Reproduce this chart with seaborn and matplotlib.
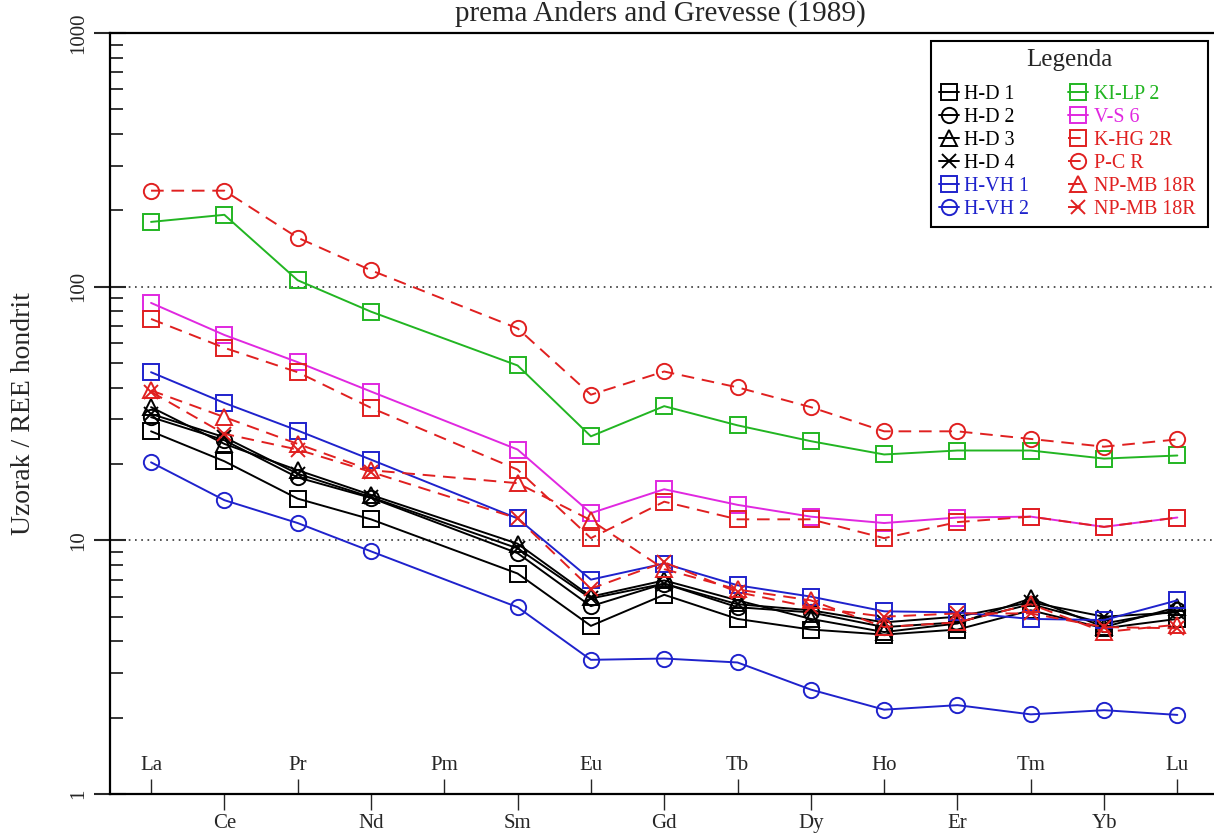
import numpy as np
import pandas as pd
import matplotlib
matplotlib.use("Agg")
import matplotlib.pyplot as plt
import seaborn as sns

# ---------------- data ----------------
elements = ["La", "Ce", "Pr", "Nd", "Pm", "Sm", "Eu", "Gd", "Tb", "Dy", "Ho", "Er", "Tm", "Yb", "Lu"]
measured = ["La", "Ce", "Pr", "Nd", "Sm", "Eu", "Gd", "Tb", "Dy", "Ho", "Er", "Tm", "Yb", "Lu"]

hd1 = [26.9, 20.5, 14.6, 12.1, 7.4, 4.6, 6.1, 4.9, 4.45, 4.25, 4.45, 5.3, 4.5, 4.9]
hd2 = [30.6, 24.8, 17.7, 14.7, 8.9, 5.5, 6.75, 5.45, 5.2, 4.55, 4.75, 5.6, 4.7, 5.3]
hd3 = [33.5, 24.0, 18.9, 15.1, 9.7, 6.0, 6.95, 5.8, 4.9, 4.35, 4.7, 5.9, 4.55, 5.45]
hd4 = [31.5, 25.5, 18.3, 14.8, 9.3, 5.9, 6.75, 5.6, 5.3, 4.75, 5.0, 5.7, 5.0, 5.2]
hvh1 = [46.0, 34.8, 27.1, 20.8, 12.2, 7.0, 8.1, 6.65, 6.0, 5.25, 5.2, 4.9, 4.85, 5.8]
hvh2 = [20.3, 14.4, 11.7, 9.05, 5.45, 3.38, 3.42, 3.3, 2.58, 2.15, 2.24, 2.06, 2.14, 2.05]
kilp2 = [180, 192, 106, 79.7, 48.9, 25.7, 33.8, 28.4, 24.6, 21.8, 22.6, 22.6, 21.0, 21.6]
vs6 = [86.3, 64.5, 50.4, 38.6, 22.8, 12.8, 15.9, 13.8, 12.4, 11.7, 12.3, 12.4, 11.3, 12.3]
khg2r = [74.6, 57.4, 46.0, 33.3, 19.0, 10.2, 14.2, 12.1, 12.1, 10.2, 11.8, 12.4, 11.3, 12.3]
pcr = [239, 239, 156, 116, 68.5, 37.5, 46.3, 40.1, 33.5, 26.9, 26.9, 25.1, 23.4, 25.0]
npmb_tri = [39.0, 30.6, 24.0, 18.9, 16.8, 12.0, 7.7, 6.4, 5.8, 4.55, 4.75, 5.6, 4.35, 4.65]
npmb_x = [38.5, 26.3, 22.8, 18.6, 12.2, 6.45, 8.2, 6.25, 5.45, 5.0, 5.15, 5.15, 4.55, 4.5]

series_names = ["H-D 1", "H-D 2", "H-D 3", "H-D 4", "H-VH 1", "H-VH 2",
                "KI-LP 2", "V-S 6", "K-HG 2R", "P-C R", "NP-MB 18R", "NP-MB 18R "]
series_values = [hd1, hd2, hd3, hd4, hvh1, hvh2, kilp2, vs6, khg2r, pcr, npmb_tri, npmb_x]

y_ticks = [1, 10, 100, 1000]
y_ticklabels = ["1", "10", "100", "1000"]
grid_levels = [10, 100]

title_text = "prema Anders and Grevesse (1989)"
ylabel_text = "Uzorak / REE hondrit"
legend_title = "Legenda"

# ---------------- styles ----------------
BLACK = "#000000"
BLUE = "#1f22cc"
GREEN = "#22b522"
MAGENTA = "#e028e0"
RED = "#e02020"
DASH = (0, (6.5, 4))
styles = [
    (BLACK, "s", "-"), (BLACK, "o", "-"), (BLACK, "^", "-"), (BLACK, "x", "-"),
    (BLUE, "s", "-"), (BLUE, "o", "-"),
    (GREEN, "s", "-"), (MAGENTA, "s", "-"),
    (RED, "s", DASH), (RED, "o", DASH), (RED, "^", DASH), (RED, "x", DASH),
]

sns.set_style("ticks")
plt.rcParams["font.family"] = ["Liberation Serif", "DejaVu Serif"]

W, H = 1214, 834
fig = plt.figure(figsize=(W / 100, H / 100), dpi=100)
ax_left, ax_right, ax_top, ax_bottom = 110, 1214, 33, 794
ax = fig.add_axes([ax_left / W, 1 - ax_bottom / H, (ax_right - ax_left) / W, (ax_bottom - ax_top) / H])

xpos = {e: i for i, e in enumerate(elements)}
handles = []
for name, vals, (col, mk, ls) in zip(series_names, series_values, styles):
    df = pd.DataFrame({"x": [xpos[e] for e in measured], "y": vals})
    sns.lineplot(data=df, x="x", y="y", ax=ax, color=col, linestyle=ls, linewidth=1.4,
                 marker=mk, markersize=11 if mk != "x" else 10, markerfacecolor="none",
                 markeredgecolor=col, markeredgewidth=1.4, legend=False)
    line = ax.lines[-1]
    line.set_label(name)
    handles.append(line)

ax.set_yscale("log")
ax.set_ylim(1, 1000)
ax.set_xlim(-0.56, 14.50)

# dotted horizontal guides
for lv in grid_levels:
    ax.axhline(lv, color="#333333", linewidth=1.2, linestyle=(0, (1, 2.75)), zorder=0)

# spines
for s in ["top", "left", "bottom"]:
    ax.spines[s].set_linewidth(1.6)
    ax.spines[s].set_color("black")
ax.spines["right"].set_visible(False)

# y ticks
ax.set_yticks(y_ticks)
ax.set_yticklabels(y_ticklabels)
ax.yaxis.set_minor_locator(matplotlib.ticker.LogLocator(base=10, subs=np.arange(2, 10)))
ax.yaxis.set_minor_formatter(matplotlib.ticker.NullFormatter())
ax.tick_params(axis="y", which="major", direction="inout", length=23, width=1.5,
               labelsize=15, pad=4)
ax.tick_params(axis="y", which="minor", direction="in", length=9.4, width=1.3)
for lab in ax.get_yticklabels():
    lab.set_rotation(90)
    lab.set_va("center")
    lab.set_ha("right")

# x ticks: odd elements below (outside), even elements above (inside)
bottom_idx = [i for i in range(len(elements)) if i % 2 == 1]
top_idx = [i for i in range(len(elements)) if i % 2 == 0]
ax.set_xticks(bottom_idx)
ax.set_xticklabels([elements[i] for i in bottom_idx])
ax.set_xticks(top_idx, minor=True)
ax.tick_params(axis="x", which="major", direction="out", length=11.5, width=1.0,
               labelsize=15, pad=3)
ax.tick_params(axis="x", which="minor", direction="in", length=10.8, width=1.0)
for i in top_idx:
    ax.text(i, 0.038, elements[i], transform=ax.get_xaxis_transform(),
            ha="center", va="center", fontsize=15)

ax.set_xlabel("")
ax.set_ylabel(ylabel_text, fontsize=20)
ax.yaxis.set_label_coords(-(110 - 11) / (ax_right - ax_left), 0.5)
ax.yaxis.label.set_va("top")

fig.text(660 / W, 1 - 21 / H, title_text, ha="center", va="baseline", fontsize=21)

leg = ax.legend(handles=handles, ncol=2, title=legend_title, loc="upper right",
                bbox_to_anchor=(1208 / W, 1 - 41 / H), bbox_transform=fig.transFigure,
                fontsize=14.4, title_fontsize=18, frameon=True, fancybox=False,
                framealpha=1, edgecolor="black", borderaxespad=0, borderpad=0.4,
                labelspacing=0.2, handlelength=1.0, handletextpad=0.3,
                columnspacing=1.9, numpoints=1)
leg._legend_box.sep = 10
leg.get_frame().set_linewidth(1.5)
for txt, (col, _, _) in zip(leg.get_texts(), styles):
    txt.set_color(col)

fig.savefig("out.png", dpi=100)
